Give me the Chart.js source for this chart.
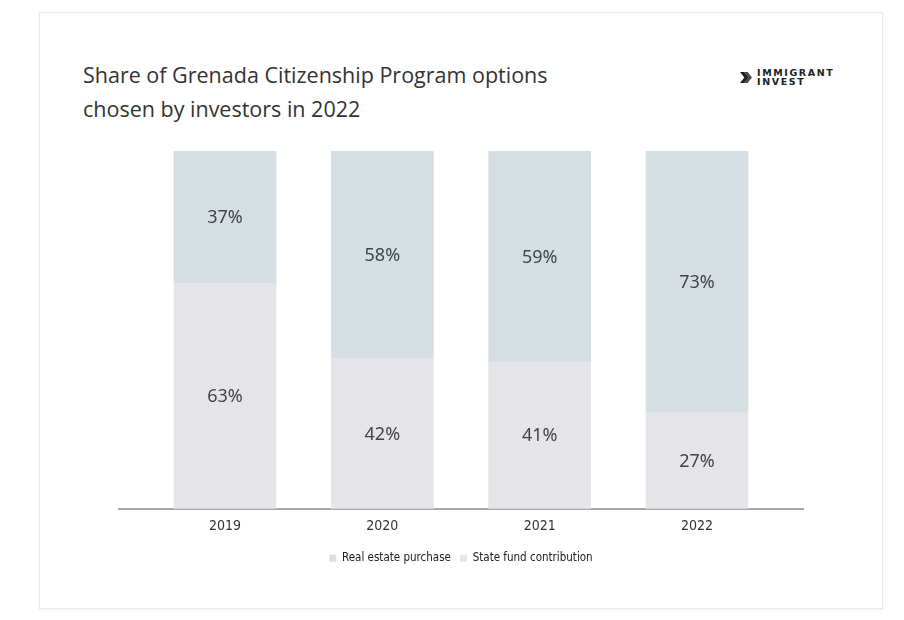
<!DOCTYPE html>
<html>
<head>
<meta charset="utf-8">
<script src="https://cdn.jsdelivr.net/npm/chart.js@4.4.1/dist/chart.umd.min.js"></script>
<style>
    html, body { margin: 0; padding: 0; background: #fff; }
    #wrap { position: relative; width: 904px; height: 620px; overflow: hidden; }
    .card { position: absolute; left: 39px; top: 12px; width: 842px; height: 595px; border: 1px solid #e8e8e8; box-shadow: 0 1px 2px rgba(0,0,0,0.06); }
    .title { position: absolute; left: 83px; top: 58px; font-family: "Open Sans", sans-serif; font-size: 21.5px; line-height: 34px; color: #333; }
    .logo { position: absolute; left: 740px; top: 69px; display: flex; align-items: center; }
    .logo-text { font-family: "DejaVu Sans", sans-serif; font-weight: bold; font-size: 9.5px; line-height: 8.5px; color: #222; letter-spacing: 1.6px; margin-left: 4px; }
    canvas { position: absolute; left: 0; top: 0; }
</style>
</head>
<body>
<div id="wrap">
    <div class="card"></div>
    <div class="title">Share of Grenada Citizenship Program options<br>chosen by investors in 2022</div>
    <div class="logo">
        <svg width="13" height="15" viewBox="0 0 12 12"><path d="M0 1 L4 1 L8 6 L4 11 L0 11 L4 6 Z" fill="#222"/><path d="M4 1 L7 1 L11 6 L7 11 L4 11 L8 6 Z" fill="#444"/></svg>
        <div class="logo-text">IMMIGRANT<br>INVEST</div>
    </div>
    <canvas id="myChart" width="904" height="620"></canvas>
</div>
<script>
const years = ['2019', '2020', '2021', '2022'];
const realEstate = [37, 58, 59, 73];
const stateFund = [63, 42, 41, 27];

const realEstateColor = '#d4dee3';
const stateFundColor = '#e5e5e9';

// подписи процентов в центре каждого сегмента
const valueLabels = {
    id: 'valueLabels',
    afterDatasetsDraw(chart) {
        const ctx = chart.ctx;
        ctx.save();
        ctx.font = '18px "Noto Sans", sans-serif';
        ctx.fillStyle = '#444';
        ctx.textAlign = 'center';
        ctx.textBaseline = 'middle';
        chart.data.datasets.forEach((ds, di) => {
            const meta = chart.getDatasetMeta(di);
            meta.data.forEach((bar, i) => {
                const p = bar.getProps(['x', 'y', 'base'], true);
                ctx.fillText(ds.data[i].y + '%', p.x, (p.y + p.base) / 2 + 1);
            });
        });
        ctx.restore();
    }
};

const ctx = document.getElementById('myChart').getContext('2d');
const myChart = new Chart(ctx, {
    type: 'bar',
    data: {
        datasets: [{
            label: 'State fund contribution',
            data: stateFund.map((v, i) => ({ x: i, y: v })),
            backgroundColor: stateFundColor,
            barThickness: 102
        }, {
            label: 'Real estate purchase',
            data: realEstate.map((v, i) => ({ x: i, y: v })),
            backgroundColor: realEstateColor,
            barThickness: 102
        }]
    },
    options: {
        responsive: false,
        animation: false,
        layout: {
            padding: { left: 119, right: 101, top: 151, bottom: 46 }
        },
        scales: {
            x: {
                type: 'linear',
                stacked: true,
                offset: false,
                min: -0.674,
                max: 3.674,
                afterBuildTicks: scale => {
                    scale.ticks = years.map((_, i) => ({ value: i }));
                },
                ticks: {
                    callback: value => years[value],
                    font: { family: '"DejaVu Sans Condensed", "DejaVu Sans", sans-serif', size: 14 },
                    color: '#333',
                    padding: 9,
                    maxRotation: 0
                },
                grid: { display: false, drawTicks: false },
                border: { display: true, color: '#a8a8a8', width: 2 }
            },
            y: {
                stacked: true,
                display: false,
                min: 0,
                max: 100
            }
        },
        plugins: {
            legend: {
                position: 'bottom',
                reverse: true,
                labels: {
                    boxWidth: 7,
                    boxHeight: 7,
                    padding: 9,
                    color: '#222',
                    font: { family: '"DejaVu Sans Condensed", "DejaVu Sans", sans-serif', size: 11.5 }
                }
            },
            tooltip: { enabled: false }
        }
    },
    plugins: [valueLabels]
});
</script>
</body>
</html>
